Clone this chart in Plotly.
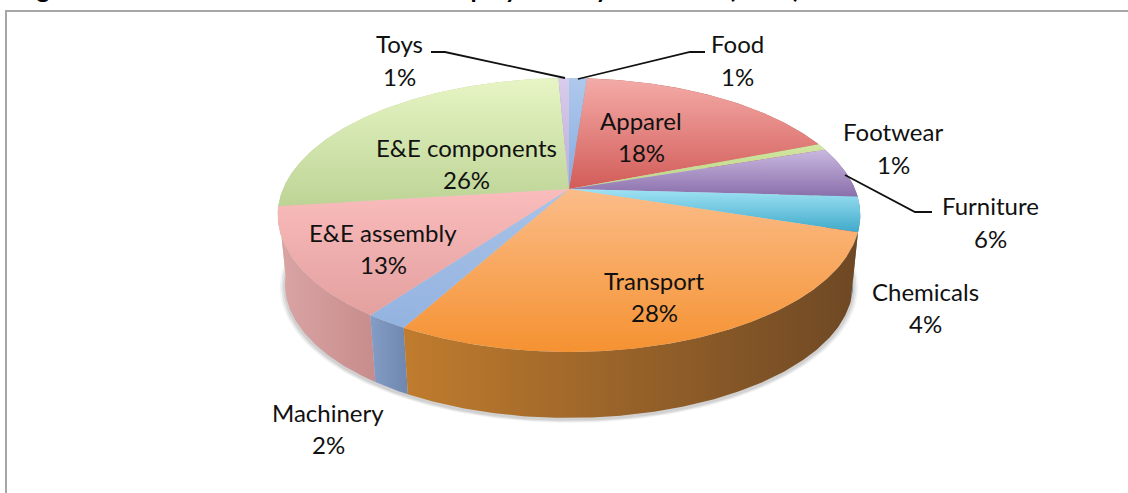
import numpy as np
import plotly.graph_objects as go

# slices run clockwise from twelve o'clock
categories = ['Food', 'Apparel', 'Footwear', 'Furniture', 'Chemicals', 'Transport',
              'Machinery', 'E&E assembly', 'E&E components', 'Toys']
shares = [1.2, 17.9, 0.8, 6, 4.1, 28, 2, 13, 26.3, 0.7]
title_text = 'Figure 5: Breakdown of total count of employment by subsector (2010)'

# top face gradients (upper colour, lower colour)
top_colors = [('#AFC9EC', '#86ABDF'), ('#F4ABA8', '#D25C58'), ('#D2E6A2', '#BBD583'),
              ('#C9B8E0', '#8A6FAB'), ('#A0E2F4', '#3FAACA'), ('#FBBC88', '#F59232'),
              ('#A9C2E7', '#93B3E0'), ('#FABCBC', '#E3A09F'), ('#E7F5C4', '#BDD496'),
              ('#D8CCEC', '#BDAED7')]
# side wall gradients (left colour, right colour)
wall_colors = [('#7F98C2', '#7F98C2'), ('#B55A57', '#B55A57'), ('#93A866', '#93A866'),
               ('#6E5688', '#6E5688'), ('#4C7F92', '#4C7F92'), ('#C07C2E', '#6E4824'),
               ('#849DC6', '#6F87AE'), ('#DBA5A5', '#C78C8C'), ('#B7CC90', '#B7CC90'),
               ('#A597C0', '#A597C0')]

# label placement: centre x, y of name line, y of percent line
label_pos = {'Food': (737, 43, 76), 'Apparel': (641, 120, 152), 'Footwear': (893, 131, 164),
             'Furniture': (990, 205, 238), 'Chemicals': (925, 291, 323), 'Transport': (654, 280, 312),
             'Machinery': (328, 412, 444), 'E&E assembly': (383, 232, 264),
             'E&E components': (466, 147, 179), 'Toys': (399, 43, 76)}
leaders = [[(431, 52), (445, 52), (565, 78)], [(578, 79), (690, 52), (705, 52)],
           [(845, 175), (915, 212), (932, 212)]]

# pseudo 3d pie: circle seen in perspective, in pixel coords
cx, cy = 569, 189
radius_x, radius_y = 286, 132
persp = 0.19
depth = 70
floor_scale = 0.975


def project(pos, scale=1.0, drop=0):
    ang = 2 * np.pi * np.asarray(pos)
    u, v = np.sin(ang), -np.cos(ang)
    d = 1 - persp * v
    return cx + scale * radius_x * u / d, cy + drop + scale * radius_y * v / d


def gradient(kind, c0, c1, lo, hi):
    return dict(type=kind, start=float(lo), stop=float(hi), colorscale=[[0, c0], [1, c1]])


fig = go.Figure()

# soft shadow under the pie
ring = np.linspace(0, 1, 241)
for extra, alpha in [(1.018, 0.07), (1.012, 0.10), (1.006, 0.13)]:
    sx, sy = project(ring, floor_scale * extra, depth + 2)
    fig.add_trace(go.Scatter(x=sx, y=sy, mode='lines', fill='toself', line=dict(width=0),
                             fillcolor=f'rgba(90,90,90,{alpha})', hoverinfo='skip'))

edges = np.concatenate([[0], np.cumsum(shares)]) / sum(shares)
arcs = [np.linspace(edges[i], edges[i + 1], max(6, int(shares[i] * 6))) for i in range(len(shares))]

# walls, back ones first
order = sorted(range(len(shares)), key=lambda i: project(arcs[i].mean())[1])
for i in order:
    tx, ty = project(arcs[i])
    bx, by = project(arcs[i], floor_scale, depth)
    wx = np.concatenate([tx, bx[::-1], tx[:1]])
    wy = np.concatenate([ty, by[::-1], ty[:1]])
    fig.add_trace(go.Scatter(x=wx, y=wy, mode='lines', fill='toself', line=dict(width=0),
                             fillgradient=gradient('horizontal', *wall_colors[i], wx.min(), wx.max()),
                             hoverinfo='skip'))

# top faces
for i in range(len(shares)):
    tx, ty = project(arcs[i])
    fx = np.concatenate([[cx], tx, [cx]])
    fy = np.concatenate([[cy], ty, [cy]])
    fig.add_trace(go.Scatter(x=fx, y=fy, mode='lines', fill='toself', line=dict(width=0),
                             fillgradient=gradient('vertical', *top_colors[i], fy.min(), fy.max()),
                             hoverinfo='skip'))

for pts in leaders:
    fig.add_trace(go.Scatter(x=[p[0] for p in pts], y=[p[1] for p in pts], mode='lines',
                             line=dict(color='#111111', width=1.8), hoverinfo='skip'))

label_font = dict(family='Lato', size=24, color='#111111')
for name, share in zip(categories, shares):
    lx, y1, y2 = label_pos[name]
    fig.add_annotation(x=lx, y=y1, text=name, showarrow=False, font=label_font)
    fig.add_annotation(x=lx, y=y2, text=f'{round(share)}%', showarrow=False, font=label_font)

# the figure caption is cut off by the top of the page, only its descenders show
fig.add_annotation(x=14, xref='x', y=1, yref='paper', yanchor='middle', yshift=12, xanchor='left',
                   text=f'<b>{title_text}</b>', showarrow=False,
                   font=dict(family='Lato', size=25, color='#000000'))

fig.update_layout(
    width=1128, height=493, margin=dict(l=0, r=0, t=0, b=0),
    paper_bgcolor='white', plot_bgcolor='white', showlegend=False,
    xaxis=dict(range=[0, 1128], visible=False, fixedrange=True),
    yaxis=dict(range=[493, 0], visible=False, fixedrange=True),
    shapes=[dict(type='path', path='M 6 493 L 6 11 L 1128 11', line=dict(color='#A6A6A6', width=2))],
)
fig.write_html('out.html', config=dict(displayModeBar=False),
               post_script="document.body.style.margin='0';")
